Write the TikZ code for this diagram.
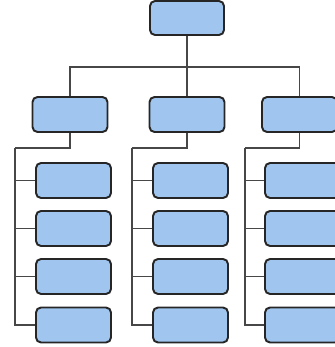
\documentclass[tikz,border=0pt]{standalone}
\begin{document}
\begin{tikzpicture}[x=0.1cm,y=-0.1cm,
  boxstyle/.style={draw=black!85, line width=5.5pt, fill=boxblue, rounded corners=0.5cm,
    minimum width=7.5cm, minimum height=3.5cm, inner sep=0pt},
  linkstyle/.style={draw=black!72, line width=3pt}]
\definecolor{boxblue}{RGB}{160,198,240}
\useasboundingbox (0,0) rectangle (335,347);
\clip (0,0) rectangle (335,347);
\fill[white] (0,0) rectangle (335,347);
% connector junctions
\coordinate (j0) at (187,67);
\coordinate (ja) at (15,148);
\coordinate (jb) at (132,148);
\coordinate (jc) at (245,148);
% top
\node[boxstyle, minimum width=7.4cm, minimum height=3.4cm] (top) at (187,18) {};
% level 1
\node[boxstyle] (la) at (70,114.5) {};
\node[boxstyle] (lb) at (187,114.5) {};
\node[boxstyle] (lc) at (299.5,114.5) {};
% level 2
\foreach \n/\y in {1/180.5,2/228.5,3/276.5,4/325}{
  \node[boxstyle] (la\n) at (73.5,\y) {};
  \node[boxstyle] (lb\n) at (190.5,\y) {};
  \node[boxstyle] (lc\n) at (302.5,\y) {};
}
% connectors
\draw[linkstyle] (top.south) -- (lb.north);
\draw[linkstyle] (la.north) |- (j0) -| (lc.north);
\draw[linkstyle] (la.south) |- (ja);
\draw[linkstyle] (lb.south) |- (jb);
\draw[linkstyle] (lc.south) |- (jc);
\foreach \n in {1,2,3,4}{
  \draw[linkstyle] (ja) |- (la\n.west);
  \draw[linkstyle] (jb) |- (lb\n.west);
  \draw[linkstyle] (jc) |- (lc\n.west);
}
\end{tikzpicture}
\end{document}
